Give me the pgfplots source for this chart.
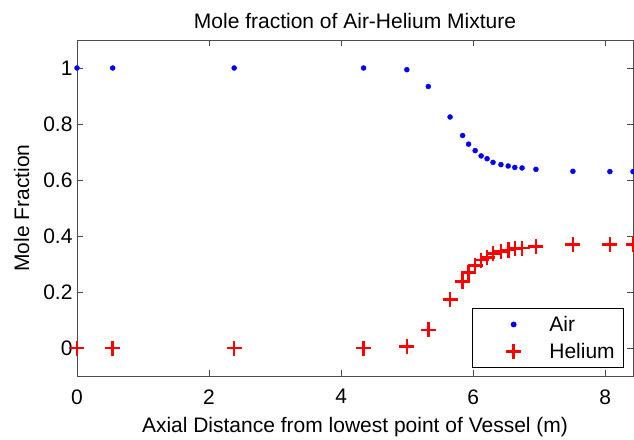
\documentclass[border=0pt]{standalone}
\usepackage{fontspec}
\setmainfont{Liberation Sans}
\usepackage{pgfplots}
\pgfplotsset{compat=1.18}
\begin{document}
\begin{tikzpicture}[font=\fontsize{21bp}{25bp}\selectfont]
\begin{axis}[
  scale only axis,
  width=556bp, height=336bp,
  xmin=0, xmax=8.42, ymin=-0.1, ymax=1.1,
  xtick={0,2,4,6,8},
  ytick={0,0.2,0.4,0.6,0.8,1},
  yticklabels={0,0.2,0.4,0.6,0.8,1},
  tick align=inside,
  major tick length=6bp,
  tick style={black!70, line width=0.6bp},
  axis line style={black!70, line width=0.8bp},
  /pgf/number format/assume math mode=true,
  xticklabel style={yshift=-10bp},
  yticklabel style={xshift=-1bp},
  title={Mole fraction of Air-Helium Mixture},
  title style={yshift=2bp},
  xlabel={Axial Distance from lowest point of Vessel (m)},
  ylabel={Mole Fraction},
  xlabel style={yshift=-6bp},
  ylabel style={yshift=7bp},
  clip marker paths=false,
  legend style={at={(0.984,0.023)}, anchor=south east, draw=black, line width=0.8bp,
    inner xsep=9bp, inner ysep=2.9bp, row sep=0bp, column sep=0bp,
    nodes={inner xsep=0bp, inner ysep=0bp, anchor=west}},
  legend image code/.code={%
    \path[draw=none, fill=none] (0bp,-13.5bp) rectangle (68.3bp,13.5bp);
    \draw[#1] plot coordinates {(32.6bp,0bp)};},
]
\addplot[only marks, mark=*, color=blue, mark size=2.5bp] coordinates {
(0,1.0) (0.54,1.0) (2.38,1.0) (4.34,1.0) (4.995,0.994) (5.32,0.934)
(5.65,0.825) (5.84,0.759) (5.93,0.728) (6.03,0.705) (6.12,0.686) (6.21,0.676)
(6.30,0.663) (6.42,0.655) (6.53,0.650) (6.63,0.645) (6.74,0.643) (6.95,0.638)
(7.51,0.631) (8.07,0.630) (8.42,0.630)
};
\addlegendentry{Air}
\addplot[only marks, mark=+, color=red, mark size=7.5bp, line width=2.6bp] coordinates {
(0,0.0) (0.54,0.0) (2.38,0.0) (4.34,0.0) (4.995,0.005) (5.32,0.065)
(5.65,0.174) (5.84,0.237) (5.93,0.270) (6.03,0.295) (6.12,0.314) (6.21,0.324)
(6.30,0.337) (6.42,0.345) (6.53,0.350) (6.63,0.355) (6.74,0.357) (6.95,0.362)
(7.51,0.369) (8.07,0.370) (8.42,0.370)
};
\addlegendentry{Helium}
\end{axis}
\pgfresetboundingbox
\useasboundingbox (current axis.south west) ++(-77bp,-64bp) rectangle ([xshift=1bp,yshift=40bp]current axis.north east);
\end{tikzpicture}
\end{document}
